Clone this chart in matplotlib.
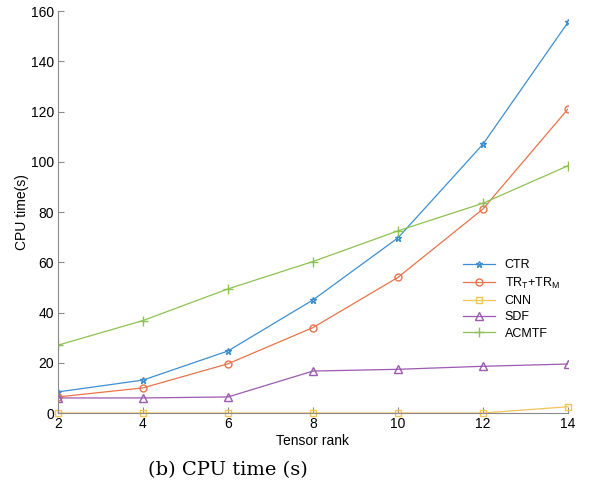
import numpy as np
import matplotlib.pyplot as plt

# Data
rank = [2, 4, 6, 8, 10, 12, 14]
ctr = [8.4, 13.1, 24.7, 45.0, 69.7, 107.0, 155.5]
trt = [6.4, 10.0, 19.6, 34.0, 54.0, 81.2, 121.0]
cnn = [0.0, 0.0, 0.0, 0.0, 0.0, 0.0, 2.5]
sdf = [6.0, 6.0, 6.4, 16.7, 17.4, 18.6, 19.5]
acmtf = [27.0, 36.8, 49.4, 60.3, 72.5, 83.5, 98.4]

plt.rcParams['font.family'] = ['Liberation Sans', 'DejaVu Sans']

fig = plt.figure(figsize=(5.96, 4.96), dpi=100)
ax = fig.add_axes([0.0973, 0.1673, 0.8557, 0.8105])

ax.plot(rank, ctr, color='#3d8fd1', marker='*', ms=5, mfc='none', lw=0.9, label='CTR')
ax.plot(rank, trt, color='#e8744a', marker='o', ms=5, mfc='none', lw=0.9,
        label=r'TR$_\mathregular{T}$+TR$_\mathregular{M}$')
ax.plot(rank, cnn, color='#f2c45a', marker='s', ms=5, mfc='none', lw=0.9, label='CNN', clip_on=False)
ax.plot(rank, sdf, color='#9b59b0', marker='^', ms=6, mfc='none', lw=0.9, label='SDF')
ax.plot(rank, acmtf, color='#8dc252', marker='+', ms=7, lw=0.9, label='ACMTF')

ax.set_xlim(2, 14)
ax.set_ylim(0, 160)
ax.set_xticks(rank)
ax.set_yticks(np.arange(0, 161, 20))
ax.set_xlabel('Tensor rank', fontsize=10, labelpad=2)
ax.set_ylabel('CPU time(s)', fontsize=10, labelpad=1)

for s in ['top', 'right']:
    ax.spines[s].set_visible(False)
for s in ['left', 'bottom']:
    ax.spines[s].set_color('#8a8a8a')
    ax.spines[s].set_linewidth(0.8)
ax.tick_params(direction='in', length=4, color='#8a8a8a', labelsize=10, pad=3)

ax.legend(loc='upper left', bbox_to_anchor=(0.785, 0.395), frameon=False, fontsize=9,
          handlelength=2.5, labelspacing=0.35, borderaxespad=0)

fig.text(0.383, 0.052, '(b) CPU time (s)', family='DejaVu Serif', fontsize=14, ha='center', va='center')

fig.savefig('out.png', dpi=100)
